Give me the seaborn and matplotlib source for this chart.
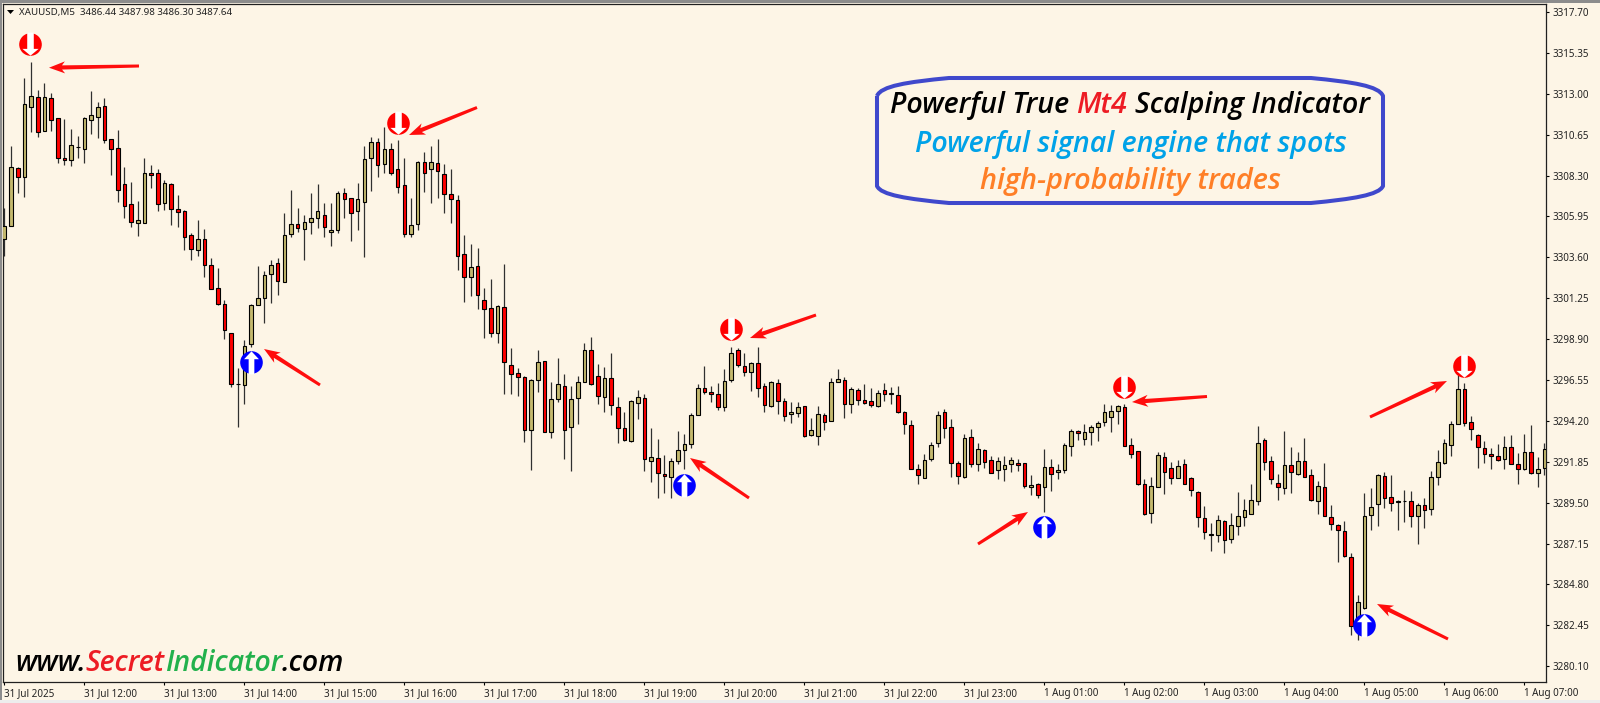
import numpy as np
import pandas as pd
import matplotlib
matplotlib.use("Agg")
import matplotlib.pyplot as plt
import seaborn as sns
from matplotlib.path import Path
from matplotlib.patches import PathPatch, Polygon, Rectangle
from matplotlib.transforms import Affine2D

opens = [
    3304.67, 3305.42, 3308.75, 3308.20, 3312.26, 3312.82, 3310.88, 3312.78, 3311.59, 3309.31,
    3309.21, 3309.92, 3309.83, 3311.51, 3311.69, 3312.28, 3310.38, 3309.88, 3307.80, 3306.65,
    3305.55, 3305.59, 3308.45, 3308.47, 3306.70, 3307.83, 3306.40, 3306.26, 3304.87, 3304.02,
    3304.67, 3303.18, 3301.84, 3300.90, 3299.25, 3296.30, 3296.26, 3298.60, 3300.84, 3301.26,
    3302.64, 3303.26, 3302.20, 3304.94, 3305.54, 3305.23, 3305.61, 3305.88, 3306.01, 3305.04,
    3305.17, 3307.30, 3306.99, 3306.24, 3306.78, 3309.31, 3310.21, 3308.97, 3309.85, 3308.66,
    3307.78, 3304.94, 3305.52, 3309.08, 3308.66, 3309.04, 3308.41, 3307.26, 3306.88, 3303.81,
    3302.49, 3303.09, 3301.13, 3300.69, 3299.24, 3300.73, 3297.40, 3296.94, 3296.71, 3293.66,
    3296.53, 3297.63, 3293.55, 3295.44, 3296.19, 3293.83, 3295.50, 3296.46, 3298.30, 3296.76,
    3295.56, 3296.65, 3294.98, 3293.78, 3293.07, 3295.25, 3295.50, 3291.92, 3292.05, 3291.15,
    3291.00, 3291.92, 3292.53, 3292.88, 3294.56, 3296.07, 3295.84, 3295.75, 3295.02, 3296.52,
    3298.26, 3297.38, 3296.99, 3297.51, 3296.18, 3295.05, 3296.37, 3295.36, 3294.59, 3294.63,
    3295.03, 3293.39, 3293.35, 3294.55, 3294.21, 3296.45, 3296.57, 3295.17, 3295.99, 3295.38,
    3295.32, 3295.07, 3295.95, 3295.76, 3295.70, 3294.71, 3293.98, 3291.41, 3290.93, 3291.99,
    3292.91, 3294.69, 3293.83, 3291.78, 3290.99, 3293.25, 3291.72, 3292.54, 3291.93, 3291.35,
    3291.41, 3291.72, 3291.76, 3291.76, 3290.38, 3290.55, 3290.42, 3291.53, 3291.28, 3291.35,
    3292.77, 3293.60, 3293.17, 3293.54, 3293.83, 3294.11, 3294.40, 3294.75, 3294.98, 3292.81,
    3292.45, 3290.57, 3288.88, 3290.42, 3292.15, 3291.47, 3290.94, 3291.72, 3290.92, 3290.10,
    3288.60, 3287.66, 3287.64, 3288.47, 3287.39, 3288.18, 3288.70, 3288.83, 3289.62, 3293.08,
    3291.88, 3290.61, 3290.33, 3291.69, 3291.17, 3291.88, 3291.07, 3289.62, 3290.38, 3288.66,
    3288.24, 3287.89, 3286.36, 3282.41, 3283.45, 3288.79, 3289.44, 3291.05, 3289.81, 3289.54,
    3289.58, 3289.58, 3288.72, 3289.39, 3289.12, 3290.96, 3291.76, 3292.83, 3294.02, 3296.03,
    3294.12, 3293.41, 3292.64, 3292.30, 3292.20, 3292.01, 3292.68, 3291.72, 3291.42, 3292.43,
    3291.19, 3291.51,
]
closes = [
    3305.42, 3308.77, 3308.24, 3312.39, 3312.85, 3310.82, 3312.82, 3311.51, 3309.31, 3309.19,
    3310.04, 3309.94, 3311.59, 3311.76, 3312.24, 3310.36, 3309.85, 3307.49, 3306.57, 3305.61,
    3305.73, 3308.47, 3308.35, 3306.67, 3307.87, 3306.40, 3306.23, 3304.75, 3304.08, 3304.67,
    3303.14, 3301.80, 3300.92, 3299.44, 3296.32, 3296.32, 3298.49, 3300.84, 3301.26, 3302.60,
    3303.18, 3302.26, 3304.87, 3305.54, 3305.27, 3305.61, 3305.86, 3306.24, 3305.32, 3305.15,
    3307.32, 3306.95, 3306.13, 3306.93, 3309.27, 3310.25, 3308.93, 3309.85, 3308.47, 3307.66,
    3304.94, 3305.44, 3309.10, 3308.43, 3309.08, 3308.58, 3307.26, 3306.96, 3303.70, 3302.49,
    3303.03, 3301.46, 3300.63, 3299.24, 3300.81, 3297.57, 3296.92, 3296.71, 3293.70, 3296.53,
    3297.57, 3293.55, 3295.46, 3296.29, 3293.66, 3295.46, 3296.42, 3298.30, 3296.34, 3295.61,
    3296.67, 3295.10, 3293.78, 3293.12, 3295.33, 3295.56, 3292.01, 3292.15, 3291.19, 3291.02,
    3291.88, 3292.55, 3292.88, 3294.56, 3296.07, 3295.84, 3295.75, 3295.02, 3296.48, 3298.09,
    3297.40, 3297.03, 3297.51, 3296.09, 3295.13, 3296.41, 3295.32, 3294.50, 3294.69, 3294.98,
    3293.33, 3293.65, 3294.59, 3294.11, 3296.41, 3296.58, 3295.19, 3296.05, 3295.42, 3295.21,
    3295.11, 3295.80, 3295.76, 3295.80, 3294.69, 3294.02, 3291.41, 3291.09, 3291.97, 3292.83,
    3294.52, 3293.77, 3291.80, 3291.01, 3293.21, 3291.72, 3292.60, 3291.85, 3291.22, 3291.87,
    3291.68, 3291.97, 3291.66, 3290.47, 3290.53, 3289.96, 3291.53, 3291.14, 3291.39, 3292.83,
    3293.60, 3293.48, 3293.54, 3293.85, 3294.08, 3294.69, 3294.75, 3295.03, 3292.77, 3292.31,
    3290.59, 3288.85, 3290.44, 3292.26, 3291.28, 3290.94, 3291.63, 3290.57, 3290.23, 3288.70,
    3287.83, 3287.70, 3288.49, 3287.36, 3288.24, 3288.75, 3289.06, 3289.67, 3292.93, 3291.86,
    3290.86, 3290.40, 3291.69, 3291.24, 3291.92, 3291.00, 3289.64, 3290.44, 3288.75, 3288.28,
    3287.93, 3286.44, 3282.41, 3283.77, 3288.75, 3289.23, 3291.07, 3289.75, 3289.46, 3289.58,
    3289.62, 3288.72, 3289.39, 3289.08, 3290.96, 3291.82, 3292.93, 3294.02, 3296.03, 3294.06,
    3293.74, 3292.68, 3292.28, 3292.20, 3291.95, 3292.72, 3291.72, 3291.42, 3292.43, 3291.19,
    3291.42, 3292.57,
]
highs = [
    3306.42, 3310.00, 3308.77, 3313.89, 3314.85, 3313.22, 3313.60, 3313.06, 3311.59, 3311.53,
    3310.96, 3310.57, 3311.69, 3313.16, 3312.53, 3312.74, 3310.38, 3310.92, 3308.79, 3307.95,
    3306.84, 3309.33, 3308.91, 3308.68, 3308.05, 3307.85, 3307.18, 3306.32, 3304.98, 3305.75,
    3305.21, 3303.58, 3302.97, 3301.15, 3299.27, 3297.26, 3298.85, 3300.90, 3303.10, 3302.82,
    3303.45, 3303.54, 3306.13, 3307.45, 3306.46, 3306.03, 3307.28, 3307.82, 3306.70, 3306.70,
    3307.43, 3307.60, 3306.99, 3307.85, 3310.00, 3310.54, 3310.44, 3311.11, 3310.19, 3310.35,
    3309.33, 3306.99, 3309.16, 3309.68, 3310.00, 3310.38, 3308.97, 3308.66, 3307.17, 3304.89,
    3304.35, 3304.16, 3301.86, 3302.34, 3300.86, 3303.22, 3298.37, 3297.22, 3296.75, 3296.59,
    3298.26, 3297.65, 3296.42, 3297.80, 3296.92, 3296.21, 3296.78, 3298.66, 3299.02, 3297.49,
    3297.30, 3298.12, 3295.58, 3294.71, 3295.40, 3295.98, 3295.75, 3293.79, 3293.14, 3292.24,
    3292.05, 3293.62, 3293.45, 3294.64, 3296.32, 3297.36, 3296.21, 3296.40, 3297.20, 3298.43,
    3298.37, 3298.12, 3297.61, 3298.45, 3296.35, 3296.51, 3296.62, 3295.53, 3295.26, 3295.26,
    3295.05, 3294.38, 3295.05, 3294.67, 3296.68, 3297.16, 3296.72, 3296.16, 3296.07, 3296.30,
    3296.07, 3295.97, 3296.39, 3296.12, 3296.20, 3294.76, 3294.25, 3291.70, 3292.27, 3292.96,
    3294.76, 3294.88, 3294.32, 3291.89, 3293.44, 3293.75, 3292.91, 3292.56, 3292.18, 3292.12,
    3292.18, 3292.12, 3292.01, 3291.80, 3291.09, 3290.61, 3292.56, 3292.03, 3291.72, 3292.91,
    3293.73, 3293.67, 3294.00, 3293.96, 3294.21, 3295.15, 3295.09, 3295.09, 3295.15, 3293.23,
    3292.49, 3290.84, 3290.99, 3292.43, 3292.43, 3291.86, 3291.95, 3291.99, 3291.00, 3290.19,
    3289.31, 3288.31, 3288.79, 3288.49, 3288.93, 3290.10, 3289.71, 3290.55, 3293.91, 3293.22,
    3292.18, 3291.13, 3293.62, 3292.70, 3292.41, 3293.24, 3291.46, 3290.75, 3291.76, 3289.37,
    3288.28, 3288.43, 3286.59, 3284.18, 3290.08, 3290.33, 3291.13, 3291.24, 3291.09, 3289.65,
    3290.23, 3290.17, 3289.46, 3289.75, 3291.32, 3292.51, 3293.14, 3294.19, 3296.84, 3296.36,
    3294.48, 3293.43, 3293.05, 3292.66, 3292.85, 3293.33, 3293.39, 3292.34, 3293.43, 3293.96,
    3292.11, 3292.93,
]
lows = [
    3303.68, 3305.42, 3307.32, 3307.05, 3310.82, 3310.54, 3310.88, 3310.88, 3309.04, 3308.89,
    3308.87, 3309.29, 3309.00, 3310.69, 3310.48, 3310.19, 3308.33, 3306.76, 3305.88, 3305.36,
    3304.85, 3305.59, 3307.57, 3306.26, 3306.32, 3305.46, 3305.36, 3304.02, 3303.45, 3303.68,
    3302.49, 3301.76, 3300.86, 3298.89, 3296.17, 3293.87, 3295.15, 3298.47, 3300.84, 3299.81,
    3301.00, 3301.44, 3302.20, 3304.79, 3305.08, 3303.45, 3304.92, 3305.31, 3304.79, 3304.25,
    3305.02, 3305.84, 3304.56, 3305.17, 3303.64, 3307.43, 3308.24, 3308.43, 3308.33, 3307.28,
    3304.75, 3304.75, 3305.17, 3307.38, 3306.71, 3306.99, 3306.17, 3305.56, 3302.88, 3301.06,
    3301.38, 3300.63, 3298.95, 3299.04, 3298.66, 3295.73, 3295.73, 3295.60, 3293.01, 3291.38,
    3295.83, 3293.55, 3293.24, 3295.31, 3291.99, 3291.34, 3294.04, 3296.46, 3296.27, 3295.15,
    3294.73, 3294.54, 3292.91, 3293.07, 3293.01, 3294.29, 3291.29, 3290.71, 3289.75, 3290.08,
    3289.75, 3291.73, 3291.42, 3292.63, 3294.54, 3295.75, 3295.31, 3294.83, 3294.79, 3296.42,
    3297.28, 3296.75, 3295.94, 3295.56, 3294.73, 3295.01, 3294.57, 3294.19, 3294.06, 3294.44,
    3293.25, 3293.35, 3292.81, 3293.67, 3294.21, 3296.45, 3294.38, 3294.67, 3295.11, 3295.17,
    3295.01, 3295.01, 3295.36, 3295.17, 3294.63, 3293.44, 3291.41, 3290.55, 3290.93, 3291.91,
    3292.72, 3293.19, 3290.99, 3290.55, 3290.90, 3291.57, 3291.34, 3291.51, 3291.18, 3290.86,
    3290.74, 3291.28, 3291.32, 3290.36, 3289.94, 3289.75, 3288.98, 3290.17, 3290.86, 3291.18,
    3292.18, 3293.10, 3292.81, 3292.81, 3293.04, 3293.92, 3293.58, 3294.00, 3292.77, 3292.04,
    3290.51, 3288.79, 3288.35, 3290.42, 3289.98, 3290.57, 3290.90, 3290.55, 3289.88, 3288.12,
    3287.39, 3286.72, 3287.26, 3286.59, 3287.20, 3287.62, 3288.16, 3288.83, 3289.37, 3291.38,
    3290.55, 3289.65, 3289.98, 3290.08, 3291.09, 3290.96, 3289.60, 3288.83, 3288.75, 3287.93,
    3286.11, 3286.40, 3281.90, 3281.61, 3283.37, 3287.93, 3288.16, 3289.18, 3289.04, 3287.93,
    3288.41, 3288.12, 3287.13, 3288.06, 3288.79, 3290.52, 3291.72, 3292.18, 3294.02, 3293.93,
    3293.10, 3291.47, 3291.80, 3291.42, 3291.92, 3291.42, 3291.70, 3290.59, 3291.38, 3291.13,
    3290.42, 3291.09,
]

sell_candles = [3.9, 59, 109, 168, 219]
sell_prices = [3315.88, 3311.34, 3299.46, 3296.17, 3297.37]
buy_candles = [37, 102, 156, 204]
buy_prices = [3297.59, 3290.53, 3288.09, 3282.49]

price_ticks = [3317.70, 3315.35, 3313.00, 3310.65, 3308.30, 3305.95, 3303.60, 3301.25, 3298.90,
               3296.55, 3294.20, 3291.85, 3289.50, 3287.15, 3284.80, 3282.45, 3280.10]
time_labels = ["31 Jul 2025", "31 Jul 12:00", "31 Jul 13:00", "31 Jul 14:00", "31 Jul 15:00",
               "31 Jul 16:00", "31 Jul 17:00", "31 Jul 18:00", "31 Jul 19:00", "31 Jul 20:00",
               "31 Jul 21:00", "31 Jul 22:00", "31 Jul 23:00", "1 Aug 01:00", "1 Aug 02:00",
               "1 Aug 03:00", "1 Aug 04:00", "1 Aug 05:00", "1 Aug 06:00", "1 Aug 07:00"]

BG = "#FDF5E6"
BULL = "#C4B96E"
BEAR = "#FF0000"
ARROW_RED = "#FF0D0D"

sns.set_theme(style="white", rc={"axes.facecolor": BG, "figure.facecolor": BG})
plt.rcParams["font.family"] = ["Noto Sans", "DejaVu Sans"]

fig = plt.figure(figsize=(16, 7.03), dpi=100)
ax = fig.add_axes([3 / 1600, 1 - 682 / 703, 1543 / 1600, 678 / 703])

# everything that is not price data is placed in image pixels
px = Affine2D().scale(1 / 1600, -1 / 703).translate(0, 1) + fig.transFigure

candle = np.arange(len(opens))
o = np.array(opens)
c = np.array(closes)

# wicks
wicks = pd.DataFrame({
    "candle": np.concatenate([candle, candle]),
    "price": highs + lows,
})
sns.lineplot(data=wicks, x="candle", y="price", units="candle", estimator=None,
             color="#303030", linewidth=0.9, ax=ax, legend=False, zorder=2,
             solid_capstyle="butt")

# bodies
colors = [BULL if b >= a else BEAR for a, b in zip(o, c)]
ax.bar(candle, np.abs(c - o), bottom=np.minimum(o, c), width=0.55, color=colors,
       edgecolor="black", linewidth=0.8, zorder=3)

# signal circles with the white arrow on top
down_arrow = Path([(-0.30, 1.08), (0.30, 1.08), (0.30, -0.40), (0.74, -0.40), (0, -1.02),
                   (-0.74, -0.40), (-0.30, -0.40), (-0.30, 1.08)], closed=True)
up_arrow = Path([(-0.26, -1.08), (0.26, -1.08), (0.26, 0.30), (0.68, 0.30), (0, 1.02),
                 (-0.68, 0.30), (-0.26, 0.30), (-0.26, -1.08)], closed=True)
sns.scatterplot(x=sell_candles, y=sell_prices, color="#FF0000", s=265, linewidth=0, ax=ax,
                legend=False, zorder=4)
sns.scatterplot(x=buy_candles, y=buy_prices, color="#0000FF", s=265, linewidth=0, ax=ax,
                legend=False, zorder=4)
ax.scatter(sell_candles, sell_prices, marker=down_arrow, color="white", s=290, linewidth=0, zorder=5)
ax.scatter(buy_candles, buy_prices, marker=up_arrow, color="white", s=290, linewidth=0, zorder=5)

ax.set_xlim(-0.2, 231.25)
ax.set_ylim(3279.19, 3318.16)
ax.set_xlabel("")
ax.set_ylabel("")
ax.set_xticks(np.arange(0, 231, 12))
ax.set_xticklabels(time_labels, ha="left", fontsize=7.1, color="#222222")
ax.set_yticks(price_ticks)
ax.set_yticklabels([f"{p:.2f}" for p in price_ticks], fontsize=7.1, color="#222222")
ax.yaxis.tick_right()
ax.tick_params(axis="both", length=2, width=0.8, color="black", pad=3, bottom=True, right=True)
ax.tick_params(axis="x", pad=2.5)
for spine in ax.spines.values():
    spine.set_color("#202020")
    spine.set_linewidth(0.9)

# window chrome
fig.add_artist(Rectangle((0, 0), 1600, 3, transform=px, color="#8C8C8C", lw=0))
fig.add_artist(Rectangle((0, 0), 2, 703, transform=px, color="#8C8C8C", lw=0))
fig.add_artist(Rectangle((0, 700), 1600, 3, transform=px, color="#EDEDED", lw=0))

# header line
fig.add_artist(Polygon([(7, 10), (14, 10), (10.5, 14)], closed=True, transform=px, color="black", lw=0))
fig.text(19, 12, "XAUUSD,M5  3486.44 3487.98 3486.30 3487.64", transform=px, fontsize=7.0,
         color="#222222", va="center", ha="left")


def red_arrow(tip, tail):
    tip = np.array(tip, float)
    tail = np.array(tail, float)
    d = (tail - tip) / np.linalg.norm(tail - tip)
    n = np.array([-d[1], d[0]])
    neck = tip + d * 13
    barb = tip + d * 16
    pts = [tip, barb + n * 6, neck + n * 2.1, tail + n * 1.5, tail - n * 1.5,
           neck - n * 2.1, barb - n * 6]
    fig.add_artist(Polygon(pts, closed=True, transform=px, color=ARROW_RED, lw=0, zorder=6))


red_arrow((49, 67.7), (139, 66))
red_arrow((409, 135), (477, 107.5))
red_arrow((264, 349), (320, 385))
red_arrow((690, 458), (749, 498))
red_arrow((750, 338), (816, 315))
red_arrow((1028, 512), (978, 544))
red_arrow((1132, 402), (1207, 396.5))
red_arrow((1447, 381), (1370, 417))
red_arrow((1377, 604), (1448, 639))

# rounded callout
L, R, T, B = 877, 1383, 78, 203
box = Path([(L, 96), (L + 4, 86), (L + 30, 82), (L + 72, T), (R - 72, T), (R - 30, 82), (R - 4, 86), (R, 96),
            (R, B - 17), (R - 4, B - 8), (R - 30, B - 4), (R - 72, B), (L + 72, B), (L + 30, B - 4),
            (L + 4, B - 8), (L, B - 17), (L, 96)],
           [Path.MOVETO, Path.CURVE4, Path.CURVE4, Path.CURVE4, Path.LINETO, Path.CURVE4, Path.CURVE4, Path.CURVE4,
            Path.LINETO, Path.CURVE4, Path.CURVE4, Path.CURVE4, Path.LINETO, Path.CURVE4, Path.CURVE4, Path.CURVE4,
            Path.LINETO])
fig.add_artist(PathPatch(box, transform=px, fill=False, edgecolor="#3F48CC", linewidth=2.9, zorder=6))


def colored_text(parts, x, y, size, weight=500):
    # parts sit next to each other, a trailing space becomes a fixed gap
    renderer = fig.canvas.get_renderer()
    for txt, col in parts:
        t = fig.text(x, y, txt.rstrip(), transform=px, color=col, fontsize=size, style="italic",
                     weight=weight, family="Open Sans", va="baseline", ha="left", zorder=7)
        x += t.get_window_extent(renderer).width
        if txt.endswith(" "):
            x += size * 0.36


colored_text([("Powerful True ", "#000000"), ("Mt4 ", "#ED1C24"), ("Scalping Indicator", "#000000")],
             890, 113, 20.6, 600)
colored_text([("Powerful signal engine that spots", "#00A2E8")], 915, 152, 20.6, 600)
colored_text([("high-probability trades", "#FF7F27")], 980, 189, 20.8, 600)
colored_text([("www.", "#000000"), ("Secret", "#ED1C24"), ("Indicator", "#22B14C"), (".com", "#000000")],
             15, 671, 20.4, 600)

fig.savefig("out.png", dpi=100, facecolor=BG)
